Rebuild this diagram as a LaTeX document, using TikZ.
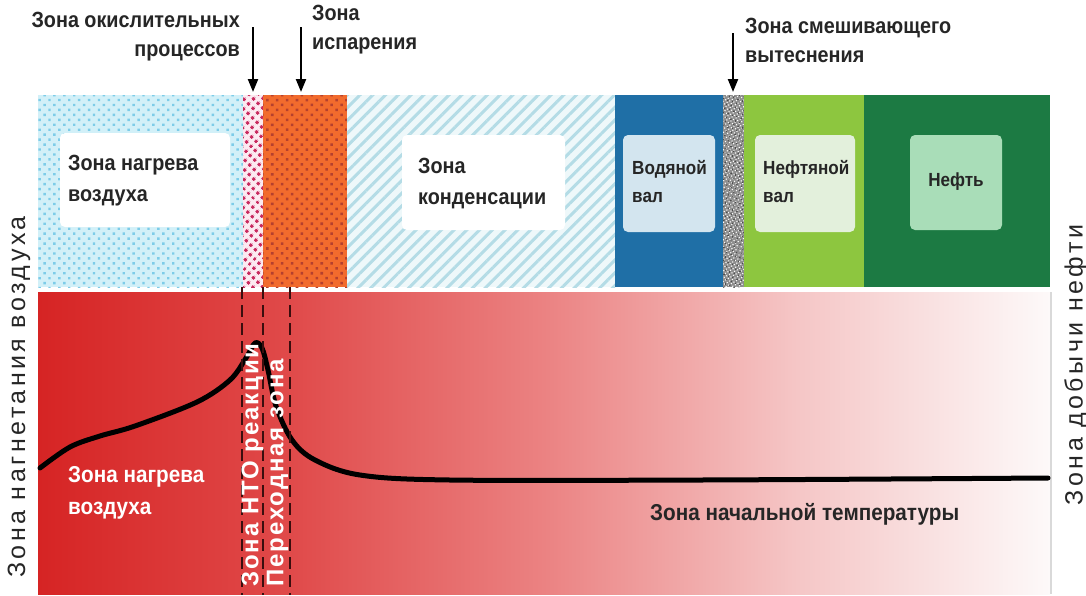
\documentclass[tikz,border=0pt]{standalone}
\usepackage{fontspec}
\setmainfont{Liberation Sans}[FakeStretch=0.9]
\newfontfamily\vfont{Liberation Sans}[LetterSpace=8]
\newfontfamily\sidefont{Liberation Sans}[LetterSpace=14]
\usetikzlibrary{patterns.meta,arrows.meta}
\definecolor{airbg}{HTML}{D2F0F8}
\definecolor{airdot}{HTML}{7DCCE8}
\definecolor{ntobg}{HTML}{FCEAF1}
\definecolor{ntodot}{HTML}{C8285E}
\definecolor{evap}{HTML}{F26B2D}
\definecolor{evapdot}{HTML}{B5402E}
\definecolor{condbg}{HTML}{EEF8FA}
\definecolor{condline}{HTML}{B4DCE6}
\definecolor{water}{HTML}{1F6FA6}
\definecolor{waterbox}{HTML}{D3E5EF}
\definecolor{mixbg}{HTML}{8E8E8E}
\definecolor{oilshaft}{HTML}{8DC63F}
\definecolor{oilshaftbox}{HTML}{E3F0DC}
\definecolor{oil}{HTML}{1C7A43}
\definecolor{oilbox}{HTML}{A9DDB8}
\definecolor{redA}{HTML}{D62424}
\definecolor{redB}{HTML}{E04A4A}
\definecolor{redC}{HTML}{EB8282}
\definecolor{redD}{HTML}{F5C6C6}
\definecolor{redE}{HTML}{FDF9F9}
\definecolor{txt}{HTML}{262626}
\definecolor{dashcol}{HTML}{3A0E0E}
\pgfdeclarehorizontalshading{redfade}{100bp}{color(0bp)=(redA); color(25bp)=(redA); color(37.5bp)=(redB); color(50bp)=(redC); color(62.5bp)=(redD); color(75bp)=(redE); color(100bp)=(redE)}
\tikzset{
  toptxt/.style={font=\fontsize{22}{29}\selectfont\bfseries, inner sep=0pt, text=txt},
  bandtxt/.style={font=\fontsize{22}{31}\selectfont\bfseries, inner sep=0pt, text=txt, align=left, anchor=north west},
  smalltxt/.style={font=\fontsize{19}{28}\selectfont\bfseries, inner sep=0pt, text=txt, align=left, anchor=north west},
  whitetxt/.style={font=\fontsize{23}{32}\selectfont\bfseries, inner sep=0pt, text=white, align=left, anchor=north west},
  vtxt/.style={font=\vfont\fontsize{24}{28}\selectfont\bfseries, inner sep=0pt, text=white, rotate=90},
  sidetxt/.style={font=\sidefont\fontsize{25}{29}\selectfont, inner sep=0pt, text=txt, rotate=90},
  zonebox/.style={rounded corners=5pt},
  marker/.style={-{Triangle[length=13pt,width=10pt]}, line width=2.2pt, black},
  zoneline/.style={draw=dashcol, line width=2.4pt, dash pattern=on 12pt off 6pt},
  curve/.style={black, line width=5pt, line cap=round, line join=round}
}
\begin{document}
\begin{tikzpicture}[x=1pt,y=-1pt]
\useasboundingbox (0,0) rectangle (1086,595);
\fill[white] (0,0) rectangle (1086,595);
% ---------- upper band ----------
\fill[airbg] (38,95) rectangle (243,287);
\fill[pattern={Dots[distance=7pt,radius=1.7pt,angle=45]}, pattern color=airdot] (38,95) rectangle (243,287);
\fill[ntobg] (243,95) rectangle (263,287);
\fill[pattern={Dots[distance=6.5pt,radius=2pt,angle=45]}, pattern color=ntodot] (243,95) rectangle (263,287);
\fill[evap] (263,95) rectangle (347,287);
\fill[pattern={Dots[distance=7pt,radius=1.8pt,angle=45]}, pattern color=evapdot] (263,95) rectangle (347,287);
\fill[condbg] (347,95) rectangle (615,287);
\fill[pattern={Lines[angle=45,distance=9pt,line width=3pt]}, pattern color=condline] (347,95) rectangle (615,287);
\fill[water] (615,95) rectangle (723,287);
\fill[mixbg] (723,95) rectangle (744,287);
\fill[pattern={Dots[distance=3pt,radius=0.8pt,angle=30]}, pattern color=white] (723,95) rectangle (744,287);
\fill[pattern={Dots[distance=4pt,radius=0.9pt,angle=70,xshift=1.5pt]}, pattern color=black!80] (723,95) rectangle (744,287);
\fill[oilshaft] (744,95) rectangle (864,287);
\fill[oil] (864,95) rectangle (1050,287);
% boxes
\fill[white,zonebox] (60,133) rectangle (230,227);
\fill[white,zonebox] (402,135) rectangle (565,230);
\fill[waterbox,zonebox] (623,135) rectangle (715,232);
\fill[oilshaftbox,zonebox] (755,135) rectangle (855,232);
\fill[oilbox,zonebox] (910,135) rectangle (1002,230);
\node[bandtxt] (air) at (68,155) {Зона нагрева\\воздуха};
\node[bandtxt] (cond) at (418,158) {Зона\\конденсации};
\node[smalltxt] (wat) at (632,160) {Водяной\\вал};
\node[smalltxt] (osh) at (763,160) {Нефтяной\\вал};
\node[smalltxt, anchor=center] (oilt) at (956,182) {Нефть};
% ---------- lower band ----------
\shade[shading=redfade] (38,292) rectangle (1050,594);
\draw[black!15, line width=1.2pt] (1051,292) -- (1051,594);
\draw[curve] plot[smooth, tension=0.55] coordinates {(40,468) (70,447) (100,436) (135,426) (197,402) (230,380) (246,358) (255,343) (262,348) (268,370) (276,406) (292,440) (315,460) (360,475) (450,480) (700,480) (1048,478)};
\coordinate (d1t) at (242,287); \coordinate (d1b) at (242,595);
\coordinate (d2t) at (263,287); \coordinate (d2b) at (263,595);
\coordinate (d3t) at (290,287); \coordinate (d3b) at (290,595);
\draw[zoneline] (d1t) -- (d1b);
\draw[zoneline] (d2t) -- (d2b);
\draw[zoneline] (d3t) -- (d3b);
\node[vtxt, anchor=west] (nto) at (252.5,587) {Зона НТО реакции};
\node[vtxt, anchor=west] (trans) at (277.5,587) {Переходная зона};
\node[whitetxt] (airlow) at (68,466) {Зона нагрева\\воздуха};
\node[toptxt, font=\fontsize{23}{29}\selectfont\bfseries, anchor=north west] (init) at (650,503) {Зона начальной температуры};
% ---------- side labels ----------
\node[sidetxt] (inj) at (19,397) {Зона нагнетания воздуха};
\node[sidetxt] (prod) at (1076,365) {Зона добычи нефти};
% ---------- top labels ----------
\node[toptxt, align=right, anchor=north east] (ox) at (240,12) {Зона окислительных\\процессов};
\node[toptxt, align=left, anchor=north west] (ev) at (312,5) {Зона\\испарения};
\node[toptxt, align=left, anchor=north west] (mix) at (745,18) {Зона смешивающего\\вытеснения};
\coordinate (a1s) at (253,27); \coordinate (a1e) at (253,92);
\coordinate (a2s) at (301,27); \coordinate (a2e) at (301,92);
\coordinate (a3s) at (733,33); \coordinate (a3e) at (733,92);
\draw[marker] (a1s) -- (a1e);
\draw[marker] (a2s) -- (a2e);
\draw[marker] (a3s) -- (a3e);
\end{tikzpicture}
\end{document}
